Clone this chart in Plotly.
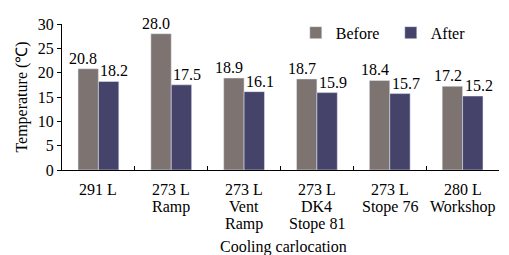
import plotly.graph_objects as go

categories = ["291 L", "273 L<br>Ramp", "273 L<br>Vent<br>Ramp", "273 L<br>DK4<br>Stope 81", "273 L<br>Stope 76", "280 L<br>Workshop"]
before = [20.8, 28.0, 18.9, 18.7, 18.4, 17.2]
after = [18.2, 17.5, 16.1, 15.9, 15.7, 15.2]

font = "Liberation Serif, Times New Roman, serif"

fig = go.Figure()
fig.add_trace(go.Bar(x=categories, y=before, name="Before", marker_color="#7d7370"))
fig.add_trace(go.Bar(x=categories, y=after, name="After", marker_color="#45436a"))

# value labels above bars (before labels nudged left, after labels nudged right)
for cat, b, a in zip(categories, before, after):
    fig.add_annotation(x=cat, y=b, xref="x", yref="y", text=f"{b:.1f}", showarrow=False,
                       yanchor="bottom", xanchor="center", xshift=-15, yshift=0,
                       font=dict(size=16))
    fig.add_annotation(x=cat, y=a, xref="x", yref="y", text=f"{a:.1f}", showarrow=False,
                       yanchor="bottom", xanchor="center", xshift=16, yshift=0,
                       font=dict(size=16))

# multi-line category labels, one annotation per line for tight line spacing
for cat in categories:
    for i, line in enumerate(cat.split("<br>")):
        fig.add_annotation(x=cat, y=0, xref="x", yref="y", text=line, showarrow=False,
                           yanchor="middle", xanchor="center", yshift=-19 - i * 17.5,
                           font=dict(size=16))

fig.add_annotation(x=0.5, y=0, xref="paper", yref="paper", text="Cooling carlocation",
                   showarrow=False, yanchor="middle", yshift=-77, xshift=3, font=dict(size=16))

fig.update_layout(
    width=509, height=255, barmode="group", bargap=0.44, bargroupgap=0,
    margin=dict(l=54, r=18, t=16, b=93, autoexpand=False),
    plot_bgcolor="white", paper_bgcolor="white",
    font=dict(family=font, size=15, color="black"),
    legend=dict(orientation="h", x=0.535, y=0.94, xanchor="left", yanchor="middle",
                font=dict(size=16), itemwidth=30, entrywidth=50, entrywidthmode="pixels",
                bgcolor="rgba(0,0,0,0)"),
    xaxis=dict(showline=True, linecolor="black", linewidth=1, ticks="inside", ticklen=4,
               tickson="boundaries", tickcolor="black", showticklabels=False),
    yaxis=dict(range=[0, 30], dtick=5, showline=True, linecolor="black", linewidth=1,
               ticks="outside", ticklen=4, tickcolor="black", showgrid=False, zeroline=False,
               tickfont=dict(size=16),
               title=dict(text="Temperature (℃)", font=dict(size=16), standoff=6)),
)
fig.write_html("out.html")
